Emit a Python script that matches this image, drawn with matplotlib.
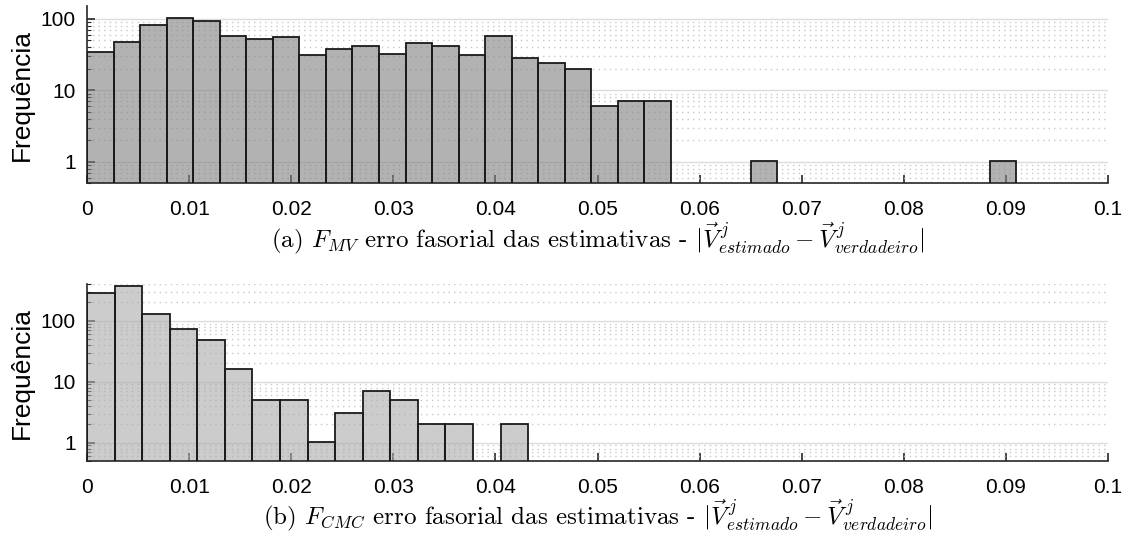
import numpy as np
import matplotlib
matplotlib.use('Agg')
import matplotlib.pyplot as plt
from matplotlib.ticker import LogLocator, NullFormatter, FixedLocator

plt.rcParams['font.family'] = ['Liberation Sans', 'DejaVu Sans']
plt.rcParams['mathtext.fontset'] = 'cm'

# bin widths
bw_mv = 0.0026
bw_cmc = 0.0027

# counts per bin (log-scale histogram)
counts_mv = [34, 48, 82, 103, 94, 58, 52, 56, 31, 38, 42, 32, 46, 42, 31, 57,
             28, 24, 20, 6, 7, 7, 0, 0, 0, 1, 0, 0, 0, 0, 0, 0, 0, 0, 1]
counts_cmc = [287, 371, 127, 72, 48, 16, 5, 5, 1, 3, 7, 5, 2, 2, 0, 2]

xticks = [0, 0.01, 0.02, 0.03, 0.04, 0.05, 0.06, 0.07, 0.08, 0.09, 0.1]
xticklabels = ['0', '0.01', '0.02', '0.03', '0.04', '0.05', '0.06', '0.07',
               '0.08', '0.09', '0.1']

captions = [
    r'(a) $F_{MV}$ erro fasorial das estimativas - '
    r'$|\vec{V}^{\,j}_{estimado} - \vec{V}^{\,j}_{verdadeiro}|$',
    r'(b) $F_{CMC}$ erro fasorial das estimativas - '
    r'$|\vec{V}^{\,j}_{estimado} - \vec{V}^{\,j}_{verdadeiro}|$',
]

fig = plt.figure(figsize=(11.29, 5.38), dpi=100)
ax1 = fig.add_axes([0.0771, 0.6593, 0.9043, 0.330])
ax2 = fig.add_axes([0.0771, 0.1431, 0.9043, 0.329])


def draw_hist(ax, counts, bw, face, ylim, caption):
    counts = np.array(counts)
    left = np.arange(len(counts)) * bw
    keep = counts > 0
    ax.bar(left[keep], counts[keep], width=bw, align='edge', bottom=0.01,
           color=face, alpha=0.6, edgecolor='none', zorder=2)
    ax.bar(left[keep], counts[keep], width=bw, align='edge', bottom=0.01,
           fill=False, edgecolor='#1a1a1a', linewidth=1.3, zorder=3)
    ax.set_yscale('log')
    ax.set_xlim(0, 0.1)
    ax.set_ylim(*ylim)
    ax.set_xticks(xticks)
    ax.set_xticklabels(xticklabels)
    ax.yaxis.set_major_locator(FixedLocator([1, 10, 100]))
    ax.set_yticklabels(['1', '10', '100'])
    ax.yaxis.set_minor_locator(LogLocator(base=10, subs=np.arange(2, 10) * 1.0))
    ax.yaxis.set_minor_formatter(NullFormatter())
    ax.tick_params(axis='both', which='major', direction='in', labelsize=15,
                   color='#262626', length=6, width=1.2)
    ax.tick_params(axis='x', which='major', pad=12)
    ax.tick_params(axis='y', which='major', pad=8)
    ax.tick_params(axis='y', which='minor', direction='in', length=3,
                   color='#262626', width=0.8)
    ax.tick_params(axis='x', which='minor', bottom=False)
    ax.grid(True, which='major', axis='y', color='#dcdcdc', linewidth=1.0, zorder=0)
    ax.grid(True, which='minor', axis='y', color='#c8c8c8', linestyle=(0, (1, 3)),
            linewidth=1.0, zorder=0)
    ax.set_axisbelow(True)
    for s in ['top', 'right']:
        ax.spines[s].set_visible(False)
    for s in ['left', 'bottom']:
        ax.spines[s].set_color('#262626')
        ax.spines[s].set_linewidth(1.2)
    ax.set_ylabel('Frequência', fontsize=19, labelpad=5)
    ax.text(0.5, -0.31, caption, transform=ax.transAxes, ha='center', va='center',
            fontsize=18, family='cmr10')


draw_hist(ax1, counts_mv, bw_mv, '#808080', (0.5, 152), captions[0])
draw_hist(ax2, counts_cmc, bw_cmc, '#aaaaaa', (0.5, 400), captions[1])

fig.savefig('out.png', dpi=100)
